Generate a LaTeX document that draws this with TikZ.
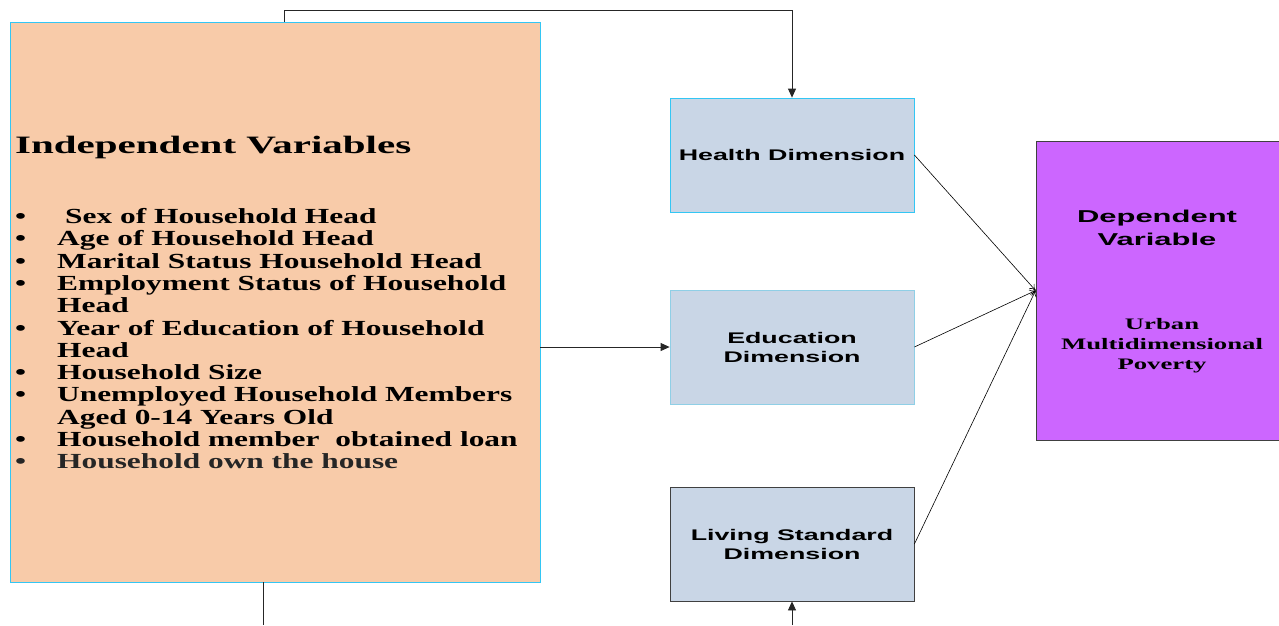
\documentclass[tikz,border=0pt]{standalone}
\usepackage{fontspec}
\setmainfont{Liberation Serif}
\usetikzlibrary{arrows.meta}
\newfontfamily\titlef[FakeStretch=1.64]{Liberation Serif Bold}
\newfontfamily\listf[FakeStretch=1.46]{Liberation Serif Bold}
\newfontfamily\boxf[FakeStretch=1.74]{Liberation Sans Bold}
\newfontfamily\depf[FakeStretch=1.8]{Liberation Sans Bold}
\newfontfamily\urbf[FakeStretch=1.67]{Liberation Serif Bold}
\definecolor{peach}{HTML}{F8CBA9}
\definecolor{dimfill}{HTML}{C9D6E6}
\definecolor{purp}{HTML}{CC66FF}
\definecolor{cyanb}{HTML}{33C6F4}
\definecolor{lblue}{HTML}{8FCFE6}
\definecolor{dgray}{HTML}{404040}
\tikzset{
  dimbox/.style={draw, fill=dimfill, minimum width=244pt, minimum height=114pt, inner sep=0pt, line width=0.8pt},
  dimtext/.style={font=\boxf\fontsize{15.4}{19}\selectfont, align=center, inner sep=0pt},
  conn/.style={draw=black!85, line width=0.8pt},
  arr/.style={conn, -{Triangle[length=9pt,width=8pt]}},
  thin/.style={draw=black, line width=0.6pt, -{To[length=6pt,width=7pt]}}
}
\begin{document}
\begin{tikzpicture}[x=1pt,y=-1pt]
\useasboundingbox (0,0) rectangle (1279,625);
% independent variables box
\node[draw=cyanb, fill=peach, line width=0.9pt, minimum width=530pt, minimum height=560pt, inner sep=0pt] (indep) at (275,302) {};
\node[anchor=base west, inner sep=0pt, font=\titlef\fontsize{25}{28}\selectfont] (title) at (15,153) {Independent Variables};
\node[anchor=base west, inner sep=0pt, font=\listf\fontsize{21.5}{22.3}\selectfont] (list) at (15,223.5) {%
\begin{tabular}[t]{@{}p{42pt}@{}l@{}}
\textbullet & \hspace{8pt}Sex of Household Head\\
\textbullet & Age of Household Head\\
\textbullet & Marital Status Household Head\\
\textbullet & Employment Status of Household\\
 & Head\\
\textbullet & Year of Education of Household\\
 & Head\\
\textbullet & Household Size\\
\textbullet & Unemployed Household Members\\
 & Aged 0-14 Years Old\\
\textbullet & Household member\ \ obtained loan\\
\textcolor{black!85}{\textbullet} & \textcolor{black!85}{Household own the house}
\end{tabular}};
% dimension boxes
\node[dimbox, draw=cyanb] (health) at (792,155) {};
\node[dimtext] (healtht) at (792,155) {Health Dimension};
\node[dimbox, draw=lblue] (edu) at (792,347) {};
\node[dimtext] (edut) at (792,347) {Education\\Dimension};
\node[dimbox, draw=dgray] (living) at (792,544) {};
\node[dimtext] (livingt) at (792,544) {Living Standard\\Dimension};
% dependent box
\node[draw=dgray, fill=purp, line width=0.8pt, minimum width=243pt, minimum height=299pt, inner sep=0pt] (dep) at (1157.5,290.5) {};
\node[font=\depf\fontsize{17.2}{23}\selectfont, align=center, inner sep=0pt] (dept) at (1157,228) {Dependent\\Variable};
\node[font=\urbf\fontsize{16}{20}\selectfont, align=center, inner sep=0pt] (urb) at (1162,345.5) {Urban\\Multidimensional\\Poverty};
% connectors
\coordinate (tt) at (284,10);
\coordinate (b1) at (263,625);
\coordinate (b2) at (792,625);
\draw[arr] (indep.north -| tt) -- (tt) -| (health.north);
\draw[arr] (indep.east |- edu.west) -- (edu.west);
\draw[conn] (indep.south -| b1) -- (b1);
\draw[arr] (b2) -- (living.south);
\draw[thin] (health.east) -- (dep.west);
\draw[thin] (edu.east) -- (dep.west);
\draw[thin] (living.east) -- (dep.west);
\end{tikzpicture}
\end{document}
